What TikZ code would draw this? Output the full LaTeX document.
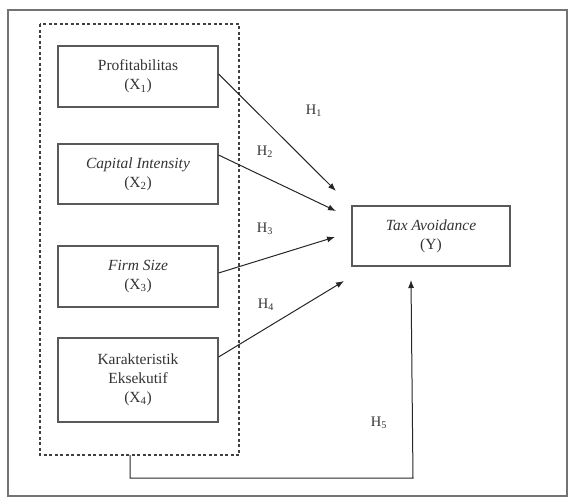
\documentclass[tikz,border=0pt]{standalone}
\usepackage{fontspec}
\setmainfont{Liberation Serif}
\usetikzlibrary{arrows.meta}
\begin{document}
\begin{tikzpicture}[x=1pt,y=-1pt,
  varbox/.style={draw=black!65,line width=1.1pt,minimum width=160pt,align=center,font=\fontsize{15.5}{19}\selectfont,inner sep=0pt,text=black!80},
  hyp/.style={font=\fontsize{14.5}{16}\selectfont,text=black!80},
  arr/.style={draw=black!85,line width=1pt,-{Latex[length=8pt,width=6pt]}}]
\useasboundingbox (0,0) rectangle (570,498);
\draw[black!55,line width=1.5pt] (8,10) rectangle (567,496);
\draw[black!75,dashed,line width=1.1pt,dash pattern=on 3pt off 2.5pt] (40,24) rectangle (239,455);
\node[varbox,minimum height=61pt] (x1) at (138,76.5) {Profitabilitas\\(X\textsubscript{1})};
\node[varbox,minimum height=60pt] (x2) at (138,174) {\textit{Capital Intensity}\\(X\textsubscript{2})};
\node[varbox,minimum height=61pt] (x3) at (138,276.5) {\textit{Firm Size}\\(X\textsubscript{3})};
\node[varbox,minimum height=84pt] (x4) at (138,380) {Karakteristik\\Eksekutif\\(X\textsubscript{4})};
\node[varbox,minimum height=60pt,minimum width=158pt] (y) at (431,236) {\textit{Tax Avoidance}\\(Y)};
\coordinate (e1) at (336,191);
\coordinate (e2) at (336,211);
\coordinate (e3) at (335,237);
\coordinate (e4) at (344,281);
\coordinate (e5) at (411,280);
\coordinate (d) at (130,455);
\coordinate (c1) at (130,478);
\coordinate (c2) at (413,478);
\draw[arr] (x1.east |- 0,74) -- (e1);
\draw[arr] (x2.east |- 0,155) -- (e2);
\draw[arr] (x3.east |- 0,273) -- (e3);
\draw[arr] (x4.east |- 0,357) -- (e4);
\draw[arr] (d) -- (c1) -- (c2) -- (e5);
\node[hyp] (h1) at (314,111) {H\textsubscript{1}};
\node[hyp] (h2) at (265,152) {H\textsubscript{2}};
\node[hyp] (h3) at (265,229) {H\textsubscript{3}};
\node[hyp] (h4) at (266,305) {H\textsubscript{4}};
\node[hyp] (h5) at (379,423) {H\textsubscript{5}};
\end{tikzpicture}
\end{document}
